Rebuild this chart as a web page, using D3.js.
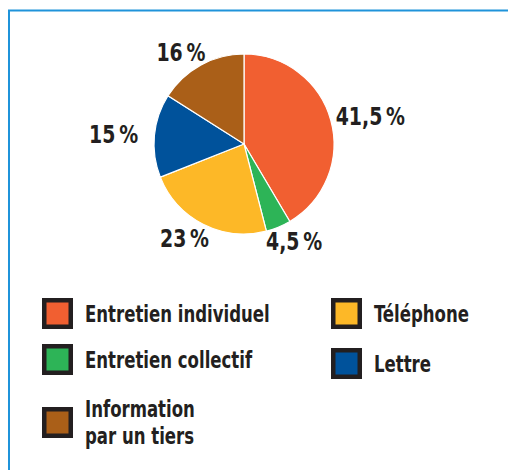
<!DOCTYPE html>
<html>
<head>
<meta charset="utf-8">
<script src="https://cdn.jsdelivr.net/npm/d3@7"></script>
<style>
  body { margin: 0; background: #fff; }
  text { font-family: "Liberation Sans Narrow", "DejaVu Sans Condensed", "Arial Narrow", sans-serif; font-weight: bold; fill: #231f20; }
</style>
</head>
<body>
<div id="chart"></div>
<script>
// data
const categories = ["Entretien individuel", "Entretien collectif", "Téléphone", "Lettre", "Information par un tiers"];
const shares = [41.5, 4.5, 23, 15, 16];
const shareLabels = ["41,5\u2009%", "4,5\u2009%", "23\u2009%", "15\u2009%", "16\u2009%"];
const colors = ["#f15f31", "#2db457", "#fdb827", "#00529b", "#aa5f18"];

// legend lines (the brown one is broken on two lines)
const legendLines = [["Entretien individuel"], ["Entretien collectif"], ["Téléphone"], ["Lettre"], ["Information", "par un tiers"]];

const width = 508, height = 470;

const svg = d3.select("#chart").append("svg")
    .attr("width", width)
    .attr("height", height);

// frame, top and left only
svg.append("path")
    .attr("d", "M9,470 V10.5 H508")
    .attr("fill", "none")
    .attr("stroke", "#1f93da")
    .attr("stroke-width", 2);

// squeeze the available font down to a condensed look
function condense(sel, k) {
    sel.each(function() {
        const w = this.getComputedTextLength();
        d3.select(this)
            .attr("textLength", w * k)
            .attr("lengthAdjust", "spacingAndGlyphs");
    });
}

const cx = 244, cy = 144, radius = 90;

const pie = d3.pie().sort(null).value(d => d)(shares);
const arc = d3.arc().innerRadius(0).outerRadius(radius);
const unit = d3.arc().innerRadius(1).outerRadius(1);

const g = svg.append("g").attr("transform", `translate(${cx},${cy})`);

g.selectAll("path.slice")
    .data(pie)
    .enter().append("path")
    .attr("class", "slice")
    .attr("d", arc)
    .attr("fill", (d, i) => colors[i])
    .attr("stroke", "#fff")
    .attr("stroke-width", 1.2);

// labels sit on an ellipse round the pie
const rx = 131, ry = 105;
const pct = g.selectAll("text.pct")
    .data(pie)
    .enter().append("text")
    .attr("class", "pct")
    .attr("x", d => unit.centroid(d)[0] * rx)
    .attr("y", d => unit.centroid(d)[1] * ry)
    .attr("dy", "0.36em")
    .attr("text-anchor", "middle")
    .style("font-size", "25px")
    .text((d, i) => shareLabels[i]);
condense(pct, 0.84);

// legend
const legendPos = [
    {x: 42, y: 298}, {x: 42, y: 344}, {x: 331, y: 298}, {x: 331, y: 348}, {x: 42, y: 407}
];
const box = 31, border = 4.5, lineH = 27;

const items = svg.selectAll("g.legend")
    .data(categories)
    .enter().append("g")
    .attr("class", "legend")
    .attr("transform", (d, i) => `translate(${legendPos[i].x},${legendPos[i].y})`);

items.append("rect")
    .attr("x", border / 2)
    .attr("y", border / 2)
    .attr("width", box - border)
    .attr("height", box - border)
    .attr("fill", (d, i) => colors[i])
    .attr("stroke", "#231f20")
    .attr("stroke-width", border);

items.each(function(d, i) {
    const lines = legendLines[i];
    const first = box / 2 + 8 - (lines.length - 1) * lineH / 2;
    const t = d3.select(this).append("text")
        .style("font-size", "23px");
    lines.forEach((l, j) => {
        const s = t.append("tspan")
            .attr("x", 43)
            .attr("y", first + j * lineH)
            .text(l);
        condense(s, 0.8);
    });
});
</script>
</body>
</html>
